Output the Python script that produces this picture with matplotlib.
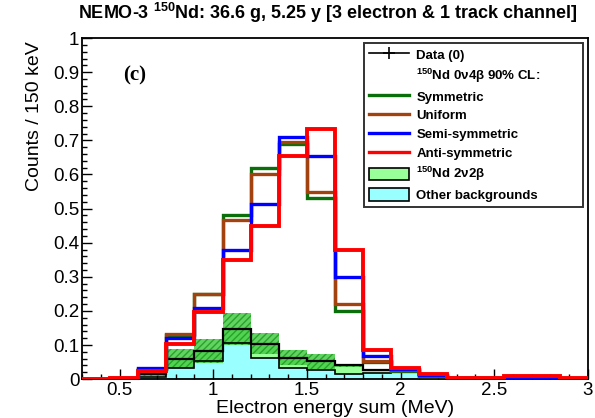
import numpy as np
import matplotlib
matplotlib.use("Agg")
import matplotlib.pyplot as plt
from matplotlib.lines import Line2D
from matplotlib.patches import Patch
from matplotlib.ticker import MultipleLocator, FuncFormatter

plt.rcParams['font.family'] = ['Liberation Sans', 'DejaVu Sans']
plt.rcParams['mathtext.fontset'] = 'custom'
plt.rcParams['mathtext.rm'] = 'Liberation Sans:bold'
plt.rcParams['mathtext.bf'] = 'Liberation Sans:bold'

# 150 keV bins of the summed electron energy (MeV)
bin_edges = [0.3, 0.45, 0.6, 0.75, 0.9, 1.05, 1.2, 1.35, 1.5, 1.65,
             1.8, 1.95, 2.1, 2.25, 2.4, 2.55, 2.7, 2.85, 3.0]

# 0v4b signal shapes at the 90% CL limit
symmetric = [0, 0.003, 0.03, 0.13, 0.25, 0.482, 0.62, 0.688, 0.53, 0.20,
             0.05, 0.025, 0.008, 0.002, 0.002, 0.004, 0.004, 0.001]
uniform = [0, 0.003, 0.03, 0.132, 0.25, 0.467, 0.60, 0.694, 0.548, 0.221,
           0.053, 0.026, 0.009, 0.002, 0.002, 0.004, 0.004, 0.001]
semi_symmetric = [0, 0.003, 0.033, 0.12, 0.209, 0.379, 0.512, 0.709, 0.653, 0.30,
                  0.068, 0.03, 0.012, 0.003, 0.003, 0.006, 0.006, 0.002]
anti_symmetric = [0, 0.004, 0.024, 0.103, 0.196, 0.349, 0.448, 0.653, 0.732, 0.379,
                  0.085, 0.033, 0.015, 0.004, 0.004, 0.008, 0.008, 0.003]

# Backgrounds (stacked): other sources, then 150Nd 2v2b on top
other_bkg = [0, 0, 0.005, 0.034, 0.053, 0.105, 0.063, 0.034, 0.027, 0.014,
             0.018, 0.02, 0.008, 0.002, 0.001, 0.001, 0.001, 0]
nd_2v2b = [0, 0, 0.010, 0.026, 0.030, 0.042, 0.041, 0.029, 0.026, 0.027,
           0.009, 0.005, 0.002, 0.001, 0.001, 0.001, 0, 0.001]
total_err = [0, 0, 0.006, 0.028, 0.035, 0.047, 0.03, 0.022, 0.022, 0.004,
             0.003, 0.002, 0.001, 0, 0, 0, 0, 0]

# Observed events (none)
data_counts = [0] * 18

edges = np.array(bin_edges)
other = np.array(other_bkg)
total = other + np.array(nd_2v2b)
err = np.array(total_err)

fig = plt.figure(figsize=(5.95, 4.18), dpi=100)
ax = fig.add_axes([0.138, 0.093, 0.850, 0.816])

# stacked backgrounds
ax.stairs(other, edges, baseline=0, fill=True, color='#99ffff', lw=0, zorder=1)
ax.stairs(total, edges, baseline=other, fill=True, color='#99ff99', lw=0, zorder=1)
ax.stairs(total + err, edges, baseline=np.clip(total - err, 0, None), fill=True,
          facecolor='#44cc44', edgecolor='#229922', hatch='/////', lw=0,
          alpha=0.85, zorder=2)
ax.stairs(other, edges, color='black', lw=1.2, zorder=3)
ax.stairs(total, edges, color='black', lw=1.6, zorder=3)

# signal shapes
ax.stairs(symmetric, edges, color='#0a6e0a', lw=2.4, zorder=4)
ax.stairs(uniform, edges, color='#a2420e', lw=2.4, zorder=5)
ax.stairs(semi_symmetric, edges, color='#0000ff', lw=2.4, zorder=6)
ax.stairs(anti_symmetric, edges, color='#ff0000', lw=2.8, zorder=7)

ax.set_xlim(0.3, 3.0)
ax.set_ylim(0, 1.0)
ax.xaxis.set_major_locator(MultipleLocator(0.5))
ax.xaxis.set_minor_locator(MultipleLocator(0.1))
ax.yaxis.set_major_locator(MultipleLocator(0.1))
ax.yaxis.set_minor_locator(MultipleLocator(0.02))
fmt = FuncFormatter(lambda v, p: f"{v:g}")
ax.xaxis.set_major_formatter(fmt)
ax.yaxis.set_major_formatter(fmt)
ax.tick_params(which='both', direction='in', top=False, right=False, width=1.0)
ax.tick_params(which='major', length=7, labelsize=13.5, pad=2)
ax.tick_params(which='minor', length=3.5)
for s in ax.spines.values():
    s.set_linewidth(1.3)

ax.set_xlabel('Electron energy sum (MeV)', fontsize=14, labelpad=1)
ax.set_ylabel('Counts / 150 keV', fontsize=14, labelpad=4)
ax.yaxis.set_label_coords(-0.078, 0.77)

fig.text(0.551, 0.970, r'NEMO-3 $^{150}$Nd: 36.6 g, 5.25 y [3 electron & 1 track channel]',
         ha='center', va='center', fontsize=13, fontweight='bold')

ax.text(0.103, 0.89, '(c)', transform=ax.transAxes, ha='center', va='center',
        fontsize=15, fontweight='bold', family='Liberation Serif')

handles = [
    Line2D([], [], color='black', lw=1.2, marker='+', markersize=9, mew=1.2),
    Line2D([], [], linestyle='none'),
    Line2D([], [], color='#0a6e0a', lw=2.4),
    Line2D([], [], color='#a2420e', lw=2.4),
    Line2D([], [], color='#0000ff', lw=2.4),
    Line2D([], [], color='#ff0000', lw=2.4),
    Patch(facecolor='#99ff99', edgecolor='black', lw=1.2),
    Patch(facecolor='#99ffff', edgecolor='black', lw=1.2),
]
labels = [
    f'Data ({sum(data_counts)})',
    r'$^{150}$Nd 0ν4β 90% CL:',
    'Symmetric', 'Uniform', 'Semi-symmetric', 'Anti-symmetric',
    r'$^{150}$Nd 2ν2β', 'Other backgrounds',
]
leg = ax.legend(handles, labels, loc='upper left',
                bbox_to_anchor=(0.558, 0.985, 0.432, 0.0), mode='expand',
                prop={'weight': 'bold', 'size': 9.5}, frameon=True, fancybox=False,
                handlelength=3.0, handleheight=1.1, handletextpad=0.6,
                labelspacing=0.38, borderpad=0.35, borderaxespad=0)
leg.get_frame().set_edgecolor('black')
leg.get_frame().set_linewidth(1.4)
leg.set_zorder(10)

fig.savefig('out.png', dpi=100)
